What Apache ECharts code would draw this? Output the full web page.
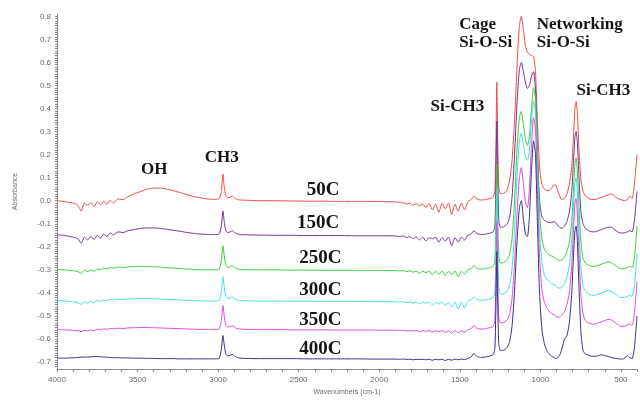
<!DOCTYPE html>
<html><head><meta charset="utf-8">
<script src="https://cdn.jsdelivr.net/npm/echarts@6/dist/echarts.min.js"></script>
<style>html,body{margin:0;padding:0;background:#fff}#c{width:640px;height:401px}</style>
</head><body><div id="c"></div>
<script>
const wavenumbers = [
4000,3960,3920,3890,3870,3850,3830,3810,3790,3770,3750,3730,3710,3690,3670,3650,3620,3590,3560,
3520,3480,3440,3400,3360,3320,3280,3240,3200,3160,3120,3080,3040,3010,
2992,2980,2970,2962,2952,2940,2925,2912,2900,2885,2860,2820,
2750,2650,2550,2450,2350,2250,2150,2050,1950,
1900,1875,1850,1830,1810,1790,1770,1750,1730,1710,1690,1670,1650,1630,1610,1590,1570,1550,1530,1510,1490,1470,1450,
1430,1412,1395,1370,1340,1310,1293,1282,1275,1270,1265,1258,1248,1235,1220,1205,1190,1175,1160,1145,
1130,1118,1105,1092,1080,1068,1055,1042,1030,1018,1005,990,975,960,945,930,915,905,895,880,
865,850,835,820,805,795,785,778,770,760,748,735,720,700,680,660,640,620,600,580,
560,540,520,500,480,460,445,430,415,400];

const abs50C = [
0.0,-0.003,-0.008,-0.012,-0.02,-0.045,-0.01,-0.02,-0.008,-0.025,-0.005,-0.018,-0.002,-0.015,0.003,-0.01,0.008,0.004,0.018,
0.03,0.04,0.05,0.055,0.055,0.05,0.044,0.036,0.028,0.02,0.014,0.009,0.006,0.006,
0.01,0.04,0.115,0.06,0.02,0.012,0.015,0.02,0.013,0.006,0.003,0.002,
0.0,0.0,-0.001,-0.002,-0.002,-0.003,-0.003,-0.003,-0.004,
-0.005,-0.008,-0.01,-0.015,-0.01,-0.02,-0.012,-0.022,-0.015,-0.03,-0.012,-0.04,-0.015,-0.05,-0.012,-0.035,-0.01,-0.06,-0.015,-0.045,-0.01,-0.04,-0.005,
0.005,0.02,0.008,0.003,0.005,0.01,0.015,0.04,0.28,0.515,0.28,0.06,0.03,0.03,0.035,0.05,0.09,0.18,0.35,0.58,
0.76,0.80,0.74,0.67,0.645,0.635,0.63,0.625,0.56,0.34,0.15,0.07,0.05,0.045,0.045,0.055,0.07,0.068,0.05,0.02,
0.005,0.01,0.03,0.07,0.15,0.27,0.40,0.43,0.38,0.22,0.09,0.04,0.02,0.01,0.005,0.005,0.01,0.015,0.02,0.025,
0.03,0.02,0.01,0.005,0.0,0.005,0.02,0.01,0.08,0.2];

const abs150C = [
-0.148,-0.15,-0.155,-0.16,-0.165,-0.185,-0.158,-0.17,-0.155,-0.168,-0.15,-0.162,-0.145,-0.155,-0.14,-0.148,-0.135,-0.138,-0.13,
-0.125,-0.12,-0.118,-0.118,-0.12,-0.124,-0.128,-0.132,-0.137,-0.141,-0.144,-0.146,-0.147,-0.147,
-0.143,-0.11,-0.045,-0.09,-0.13,-0.138,-0.135,-0.13,-0.137,-0.143,-0.147,-0.148,
-0.149,-0.15,-0.15,-0.151,-0.151,-0.151,-0.152,-0.152,-0.152,
-0.153,-0.155,-0.153,-0.16,-0.155,-0.165,-0.157,-0.17,-0.158,-0.175,-0.16,-0.165,-0.158,-0.18,-0.16,-0.175,-0.158,-0.195,-0.16,-0.18,-0.158,-0.17,-0.15,
-0.145,-0.13,-0.142,-0.147,-0.145,-0.14,-0.135,-0.11,0.12,0.345,0.12,-0.08,-0.115,-0.115,-0.11,-0.1,-0.07,0.02,0.2,0.42,
0.57,0.60,0.56,0.51,0.487,0.50,0.54,0.56,0.48,0.22,0.0,-0.07,-0.085,-0.09,-0.095,-0.095,-0.09,-0.095,-0.105,-0.115,
-0.12,-0.11,-0.09,-0.05,0.04,0.16,0.28,0.30,0.25,0.1,-0.05,-0.1,-0.12,-0.13,-0.135,-0.135,-0.13,-0.125,-0.12,-0.115,
-0.115,-0.125,-0.135,-0.14,-0.14,-0.135,-0.13,-0.135,-0.08,0.04];

const abs250C = [
-0.298,-0.3,-0.302,-0.305,-0.308,-0.315,-0.302,-0.308,-0.3,-0.306,-0.296,-0.3,-0.293,-0.296,-0.29,-0.293,-0.288,-0.29,-0.287,
-0.286,-0.285,-0.285,-0.286,-0.288,-0.29,-0.292,-0.294,-0.296,-0.298,-0.299,-0.3,-0.3,-0.3,
-0.296,-0.26,-0.195,-0.24,-0.28,-0.289,-0.287,-0.283,-0.289,-0.295,-0.298,-0.299,
-0.3,-0.3,-0.301,-0.301,-0.302,-0.302,-0.302,-0.303,-0.303,
-0.303,-0.305,-0.303,-0.308,-0.304,-0.31,-0.305,-0.315,-0.306,-0.312,-0.305,-0.322,-0.306,-0.318,-0.305,-0.325,-0.306,-0.32,-0.305,-0.33,-0.306,-0.318,-0.3,
-0.295,-0.282,-0.293,-0.297,-0.295,-0.29,-0.285,-0.26,-0.05,0.157,-0.05,-0.24,-0.27,-0.27,-0.265,-0.255,-0.23,-0.16,0.0,0.22,
0.36,0.387,0.33,0.265,0.24,0.28,0.40,0.49,0.44,0.2,-0.05,-0.17,-0.21,-0.225,-0.235,-0.24,-0.245,-0.25,-0.255,-0.26,
-0.255,-0.245,-0.22,-0.18,-0.09,0.04,0.16,0.186,0.13,-0.03,-0.18,-0.25,-0.27,-0.28,-0.285,-0.285,-0.28,-0.275,-0.27,-0.265,
-0.268,-0.278,-0.288,-0.295,-0.295,-0.29,-0.285,-0.29,-0.24,-0.11];

const abs300C = [
-0.433,-0.435,-0.437,-0.44,-0.442,-0.45,-0.438,-0.445,-0.436,-0.442,-0.432,-0.437,-0.43,-0.434,-0.428,-0.431,-0.427,-0.428,-0.426,
-0.425,-0.424,-0.424,-0.425,-0.426,-0.428,-0.429,-0.431,-0.432,-0.433,-0.434,-0.435,-0.435,-0.435,
-0.431,-0.395,-0.33,-0.375,-0.415,-0.424,-0.422,-0.418,-0.424,-0.43,-0.433,-0.434,
-0.435,-0.435,-0.436,-0.436,-0.437,-0.437,-0.437,-0.438,-0.438,
-0.438,-0.44,-0.438,-0.442,-0.439,-0.445,-0.44,-0.448,-0.44,-0.445,-0.44,-0.452,-0.441,-0.448,-0.44,-0.455,-0.441,-0.46,-0.44,-0.47,-0.441,-0.465,-0.435,
-0.43,-0.417,-0.428,-0.432,-0.43,-0.425,-0.42,-0.395,-0.17,0.05,-0.17,-0.375,-0.405,-0.405,-0.4,-0.39,-0.365,-0.29,-0.13,0.1,
0.26,0.293,0.24,0.19,0.175,0.22,0.35,0.43,0.38,0.12,-0.14,-0.27,-0.32,-0.34,-0.35,-0.36,-0.365,-0.37,-0.375,-0.38,
-0.375,-0.36,-0.33,-0.28,-0.17,-0.04,0.08,0.10,0.04,-0.13,-0.29,-0.37,-0.395,-0.405,-0.41,-0.41,-0.405,-0.4,-0.395,-0.39,
-0.392,-0.402,-0.412,-0.42,-0.42,-0.415,-0.41,-0.415,-0.36,-0.23];

const abs350C = [
-0.558,-0.56,-0.561,-0.563,-0.564,-0.568,-0.562,-0.565,-0.56,-0.564,-0.558,-0.561,-0.556,-0.558,-0.554,-0.556,-0.553,-0.554,-0.552,
-0.551,-0.55,-0.55,-0.551,-0.552,-0.553,-0.554,-0.555,-0.556,-0.557,-0.558,-0.558,-0.559,-0.559,
-0.555,-0.52,-0.455,-0.5,-0.54,-0.548,-0.546,-0.542,-0.548,-0.554,-0.557,-0.558,
-0.559,-0.559,-0.56,-0.56,-0.56,-0.561,-0.561,-0.561,-0.562,
-0.562,-0.563,-0.562,-0.565,-0.563,-0.566,-0.563,-0.568,-0.564,-0.567,-0.563,-0.57,-0.564,-0.568,-0.563,-0.572,-0.564,-0.575,-0.563,-0.572,-0.564,-0.57,-0.56,
-0.555,-0.542,-0.553,-0.557,-0.555,-0.55,-0.545,-0.52,-0.31,-0.09,-0.31,-0.505,-0.53,-0.53,-0.525,-0.515,-0.49,-0.42,-0.27,-0.06,
0.1,0.144,0.07,-0.01,-0.03,0.05,0.24,0.36,0.31,0.04,-0.24,-0.39,-0.44,-0.465,-0.48,-0.49,-0.495,-0.5,-0.505,-0.505,
-0.495,-0.48,-0.45,-0.4,-0.28,-0.14,-0.01,0.01,-0.06,-0.24,-0.41,-0.49,-0.52,-0.53,-0.535,-0.535,-0.53,-0.525,-0.52,-0.515,
-0.517,-0.527,-0.537,-0.545,-0.545,-0.54,-0.535,-0.54,-0.48,-0.35];

const abs400C = [
-0.682,-0.683,-0.682,-0.681,-0.68,-0.679,-0.678,-0.678,-0.677,-0.676,-0.676,-0.677,-0.678,-0.679,-0.68,-0.681,-0.681,-0.682,-0.682,
-0.683,-0.683,-0.684,-0.684,-0.685,-0.685,-0.685,-0.686,-0.686,-0.686,-0.686,-0.686,-0.686,-0.686,
-0.682,-0.645,-0.585,-0.625,-0.665,-0.673,-0.671,-0.667,-0.673,-0.679,-0.683,-0.684,
-0.685,-0.685,-0.685,-0.686,-0.686,-0.686,-0.686,-0.687,-0.687,
-0.687,-0.688,-0.687,-0.688,-0.688,-0.69,-0.688,-0.689,-0.688,-0.69,-0.688,-0.692,-0.688,-0.69,-0.688,-0.693,-0.688,-0.692,-0.687,-0.69,-0.687,-0.689,-0.684,
-0.678,-0.662,-0.675,-0.68,-0.678,-0.673,-0.668,-0.64,-0.43,-0.22,-0.43,-0.62,-0.65,-0.65,-0.645,-0.635,-0.61,-0.54,-0.39,-0.18,
-0.03,0.0,-0.08,-0.145,-0.155,-0.07,0.13,0.26,0.2,-0.1,-0.4,-0.56,-0.62,-0.65,-0.665,-0.675,-0.68,-0.685,-0.683,-0.67,
-0.64,-0.6,-0.585,-0.53,-0.4,-0.25,-0.13,-0.11,-0.18,-0.38,-0.57,-0.65,-0.665,-0.67,-0.675,-0.675,-0.672,-0.668,-0.672,-0.675,
-0.68,-0.683,-0.685,-0.687,-0.685,-0.672,-0.68,-0.685,-0.63,-0.5];

const seriesNames = ['50C','150C','250C','300C','350C','400C'];
const seriesValues = [abs50C, abs150C, abs250C, abs300C, abs350C, abs400C];
const seriesColors = ['#f24a4a','#73348f','#3ccc3c','#44e0e0','#e048e0','#33338a'];

const xTickLabels = [4000,3500,3000,2500,2000,1500,1000,500];
const yTickLabels = [0.8,0.7,0.6,0.5,0.4,0.3,0.2,0.1,0.0,-0.1,-0.2,-0.3,-0.4,-0.5,-0.6,-0.7];

// annotation anchors in data coordinates: [text, wavenumber, absorbance, align, size]
const annotations = [
  ['OH', 3396, 0.135, 'center', 17],
  ['CH3', 2977, 0.186, 'center', 17],
  ['50C', 2348, 0.046, 'center', 19],
  ['150C', 2379, -0.099, 'center', 19],
  ['250C', 2366, -0.248, 'center', 19],
  ['300C', 2366, -0.389, 'center', 19],
  ['350C', 2366, -0.517, 'center', 19],
  ['400C', 2366, -0.644, 'center', 19],
  ['Si-CH3', 1682, 0.408, 'left', 17],
  ['Cage', 1503, 0.762, 'left', 17],
  ['Si-O-Si', 1503, 0.685, 'left', 17],
  ['Networking', 1022, 0.766, 'left', 17],
  ['Si-O-Si', 1022, 0.685, 'left', 17],
  ['Si-CH3', 776, 0.476, 'left', 17]
];

const chart = echarts.init(document.getElementById('c'), null, {renderer:'canvas'});
const labelFont = {color:'#6a6a6a', fontSize:8, fontFamily:'Liberation Sans, Arial, sans-serif'};
chart.setOption({
  animation:false,
  backgroundColor:'#fff',
  grid:{left:57, right:0, top:14, bottom:26, containLabel:false},
  xAxis:{
    type:'value', inverse:true, min:400, max:4000, interval:100,
    axisLine:{show:true, onZero:false, lineStyle:{color:'#8a8a8a', width:1}},
    axisTick:{show:true, length:3, lineStyle:{color:'#8a8a8a'}},
    axisLabel:Object.assign({margin:7, showMinLabel:true, showMaxLabel:true,
      formatter:v=> xTickLabels.indexOf(Math.round(v))>=0 ? String(Math.round(v)) : ''}, labelFont),
    splitLine:{show:false},
    name:'Wavenumbers (cm-1)', nameLocation:'middle', nameGap:20,
    nameTextStyle:{color:'#6a6a6a', fontSize:7, fontFamily:'Liberation Sans, Arial, sans-serif'}
  },
  yAxis:{
    type:'value', min:-0.73, max:0.81, interval:0.01,
    axisLine:{show:true, onZero:false, lineStyle:{color:'#8a8a8a', width:1}},
    axisTick:{show:true, length:2, lineStyle:{color:'#8a8a8a'}},
    axisLabel:Object.assign({margin:6, showMinLabel:false, showMaxLabel:false,
      formatter:v=>{ const r = Math.round(v*100); if (r % 10 !== 0) return ''; const t = r/100; return yTickLabels.indexOf(t)>=0 || Math.abs(t)<1e-9 ? (Math.abs(t)<1e-9?0:t).toFixed(1) : '';} }, labelFont),
    splitLine:{show:false},
    name:'Absorbance', nameLocation:'middle', nameGap:38, nameRotate:90,
    nameTextStyle:{color:'#6a6a6a', fontSize:7, fontFamily:'Liberation Sans, Arial, sans-serif'}
  },
  series: seriesNames.map((n,i)=>({
    name:n, type:'line', showSymbol:false, symbol:'none', smooth:0.2,
    lineStyle:{color:seriesColors[i], width:1}, itemStyle:{color:seriesColors[i]},
    data: wavenumbers.map((w,k)=>[w, seriesValues[i][k]]), z:2+i
  }))
});

const g = annotations.map(a=>{
  const p = chart.convertToPixel({gridIndex:0}, [a[1], a[2]]);
  return {type:'text', x:p[0], y:p[1], z:100, style:{text:a[0], fill:'#151515',
    font:'bold '+a[4]+'px "Liberation Serif", "Times New Roman", serif', align:a[3], verticalAlign:'middle'}};
});
chart.setOption({graphic:g});
</script></body></html>
